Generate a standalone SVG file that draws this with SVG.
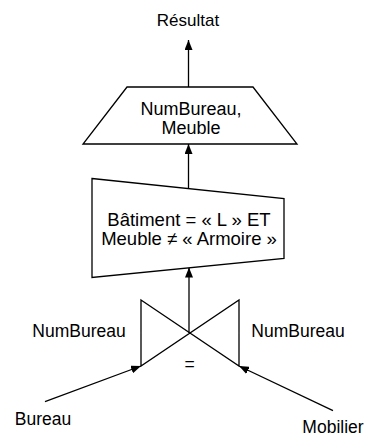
<svg xmlns="http://www.w3.org/2000/svg" width="365" height="437" viewBox="0 0 365 437">
<style>
.s{fill:#fff;stroke:#000;stroke-width:1.3;stroke-linejoin:miter}
.l{fill:none;stroke:#000;stroke-width:1.3}
.t{font-family:"Liberation Sans",Arial,sans-serif;font-size:17.5px;fill:#000;text-anchor:middle}
.r{font-size:17px}
.p{font-size:18px}
.b{font-size:18.5px}
</style>
<defs>
<marker id="ah" markerUnits="userSpaceOnUse" markerWidth="10" markerHeight="8" refX="10" refY="4" orient="auto">
<path d="M0,0 L10,4 L0,8 z" fill="#000"/>
</marker>
</defs>
<g id="connectors">
<line class="l" x1="188.5" y1="87" x2="188.5" y2="40" marker-end="url(#ah)"/>
<line class="l" x1="188.5" y1="188" x2="188.5" y2="144" marker-end="url(#ah)"/>
<line class="l" x1="189" y1="333" x2="189" y2="267.5" marker-end="url(#ah)"/>
<line class="l" x1="45" y1="401.7" x2="141" y2="366" marker-end="url(#ah)"/>
<line class="l" x1="333" y1="410.7" x2="239" y2="366" marker-end="url(#ah)"/>
</g>
<g id="resultat">
<text class="t r" x="188" y="26">Résultat</text>
</g>
<g id="projection">
<polygon class="s" points="127,87 253,87 297,144 83,144"/>
<text class="t p" x="191" y="115">NumBureau,</text>
<text class="t p" x="191" y="134">Meuble</text>
</g>
<g id="selection">
<polygon class="s" points="92,178.5 284,198.5 284,258.5 92,277.5"/>
<text class="t b" x="189" y="225.5">Bâtiment = « L » ET</text>
<text class="t b" x="189" y="244.5">Meuble ≠ « Armoire »</text>
</g>
<g id="jointure">
<path class="l" d="M141,300 L239,366 L239,300 L141,366 Z"/>
<text class="t" x="79" y="337">NumBureau</text>
<text class="t" x="298" y="337">NumBureau</text>
<text class="t" x="189.5" y="370">=</text>
</g>
<g id="bureau">
<text class="t" x="43" y="425">Bureau</text>
</g>
<g id="mobilier">
<text class="t" x="333" y="433">Mobilier</text>
</g>
</svg>
